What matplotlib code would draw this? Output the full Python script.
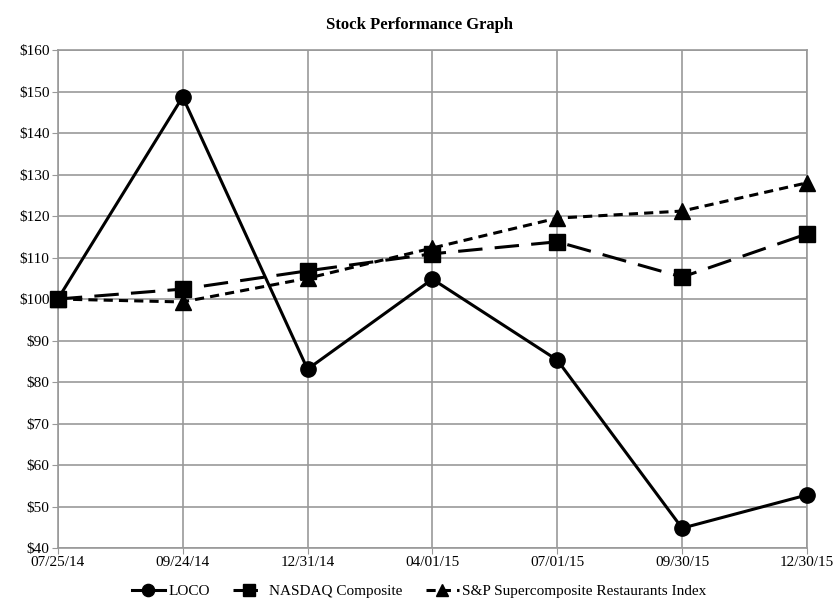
import numpy as np
import matplotlib.pyplot as plt

dates = ['07/25/14', '09/24/14', '12/31/14', '04/01/15', '07/01/15', '09/30/15', '12/30/15']
loco = [100, 148.7, 83.1, 104.8, 85.3, 44.8, 52.8]
nasdaq = [100, 102.4, 106.8, 110.9, 113.8, 105.3, 115.7]
sp_rest = [100, 99.3, 105.0, 112.3, 119.5, 121.2, 128.0]

plt.rcParams['font.family'] = ['Liberation Serif', 'DejaVu Serif']

fig = plt.figure(figsize=(8.38, 5.99), dpi=100)
ax = fig.add_axes([0.069, 0.085, 0.894, 0.8315])

x = np.arange(len(dates))
ax.plot(x, loco, color='black', lw=2.2, marker='o', ms=11, label='LOCO',
        zorder=5, clip_on=False)
ax.plot(x, nasdaq, color='black', lw=2.2, ls=(0, (8, 4)), marker='s', ms=11,
        label='NASDAQ Composite', zorder=4, clip_on=False)
ax.plot(x, sp_rest, color='black', lw=2.2, ls=(0, (3, 2)), marker='^', ms=11,
        label='S&P Supercomposite Restaurants Index', zorder=4, clip_on=False)

ax.set_xlim(0, len(dates) - 1)
ax.set_ylim(40, 160)
ax.set_xticks(x)
ax.set_xticklabels(dates, fontsize=11)
ax.set_yticks(np.arange(40, 161, 10))
ax.set_yticklabels(['$%d' % v for v in range(40, 161, 10)], fontsize=11)
ax.grid(True, color='#999999', lw=1.2)
ax.set_axisbelow(True)
for s in ax.spines.values():
    s.set_color('#999999')
    s.set_linewidth(1.2)
ax.tick_params(length=4, color='#999999', pad=2)

fig.text(0.5, 0.958, 'Stock Performance Graph', ha='center', va='center',
         fontsize=12, fontweight='bold')

fig.legend(loc='lower center', bbox_to_anchor=(0.5, -0.022), ncol=3, frameon=False,
           fontsize=11, handlelength=2.2, markerscale=0.8, columnspacing=1.5,
           handletextpad=0.2)

fig.savefig('out.png', dpi=100)
